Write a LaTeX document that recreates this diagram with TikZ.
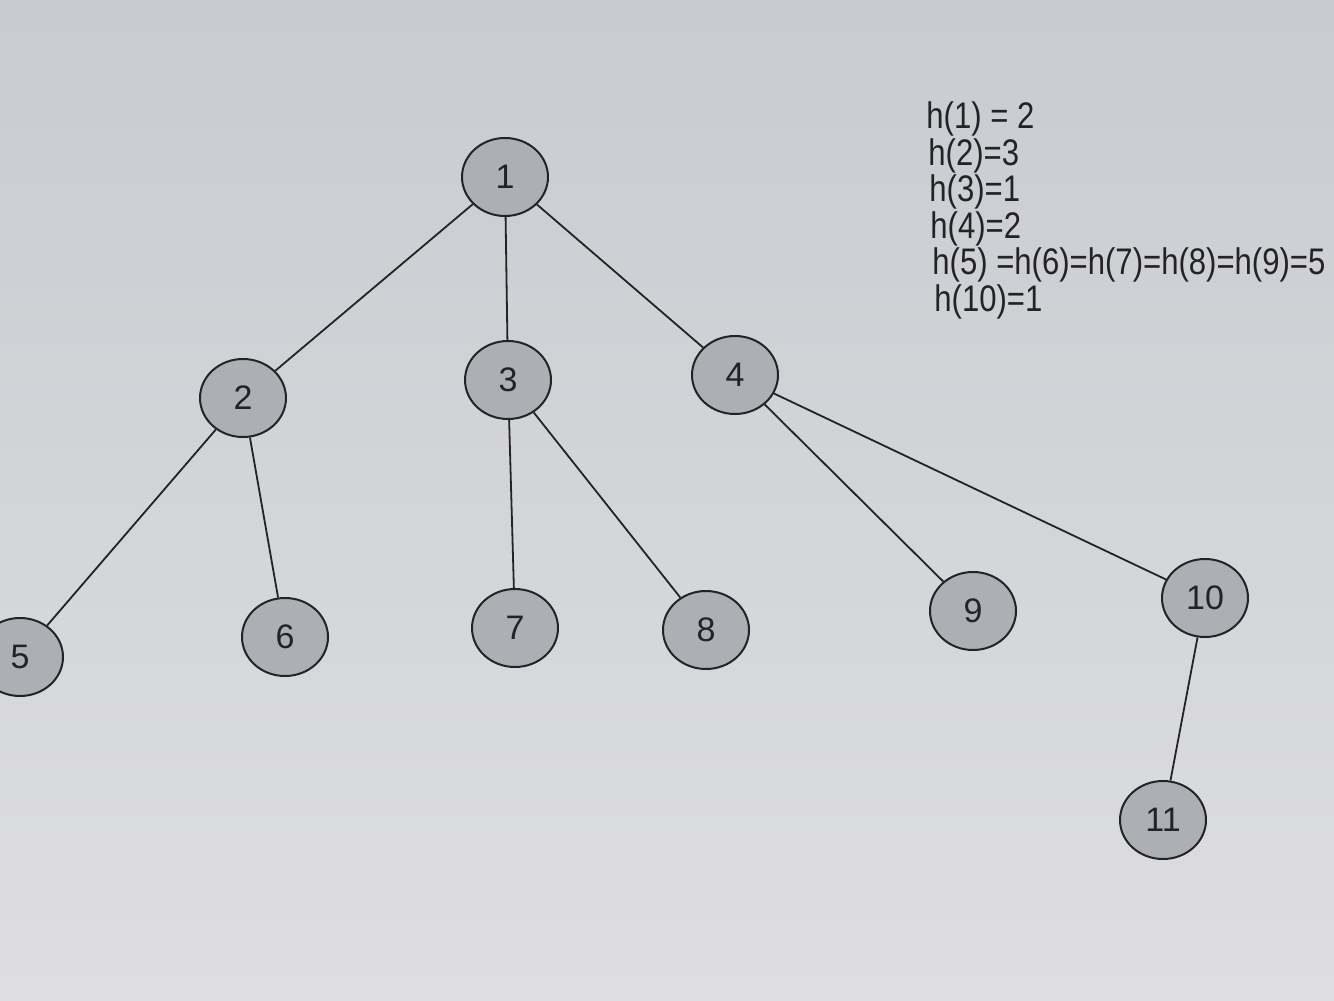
\documentclass[tikz,border=0pt]{standalone}
\usepackage{fontspec}
\setmainfont{Liberation Sans}
\newfontfamily\hfont[FakeStretch=0.84]{Liberation Sans}
\usetikzlibrary{shapes.geometric}
\definecolor{paper}{RGB}{200,203,208}
\definecolor{paperlight}{RGB}{222,222,225}
\definecolor{nodefill}{RGB}{172,175,180}
\definecolor{ink}{RGB}{35,35,38}
\begin{document}
\begin{tikzpicture}[x=0.5pt,y=-0.5pt,
  vertex/.style={ellipse,draw=ink,line width=1pt,fill=nodefill,minimum width=43pt,minimum height=39pt,inner sep=0pt,font=\fontsize{17}{17}\selectfont,text=ink},
  edge/.style={draw=ink,line width=0.9pt},
  hline/.style={anchor=base west,inner sep=0pt,font=\hfont\fontsize{18.5}{18.5}\selectfont,text=ink}]
\fill[top color=paper,bottom color=paperlight] (0,0) rectangle (1334,1001);
\useasboundingbox (0,0) rectangle (1334,1001);
\node[vertex] (n1) at (505,177) {1};
\node[vertex] (n2) at (243,398) {2};
\node[vertex] (n3) at (508,380) {3};
\node[vertex] (n4) at (735,375) {4};
\node[vertex] (n5) at (20,657) {5};
\node[vertex] (n6) at (285,637) {6};
\node[vertex] (n7) at (515,628) {7};
\node[vertex] (n8) at (706,630) {8};
\node[vertex] (n9) at (973,611) {9};
\node[vertex] (n10) at (1205,598) {10};
\node[vertex] (n11) at (1163,820) {11};
\draw[edge] (n1) -- (n2);
\draw[edge] (n1) -- (n3);
\draw[edge] (n1) -- (n4);
\draw[edge] (n2) -- (n5);
\draw[edge] (n2) -- (n6);
\draw[edge] (n3) -- (n7);
\draw[edge] (n3) -- (n8);
\draw[edge] (n4) -- (n9);
\draw[edge] (n4) -- (n10);
\draw[edge] (n10) -- (n11);
\node[hline] (t1) at (926,128) {h(1) = 2};
\node[hline] (t2) at (928,165) {h(2)=3};
\node[hline] (t3) at (929,201) {h(3)=1};
\node[hline] (t4) at (930,238) {h(4)=2};
\node[hline] (t5) at (932,274) {h(5) =h(6)=h(7)=h(8)=h(9)=5};
\node[hline] (t6) at (934,311) {h(10)=1};
\end{tikzpicture}
\end{document}
